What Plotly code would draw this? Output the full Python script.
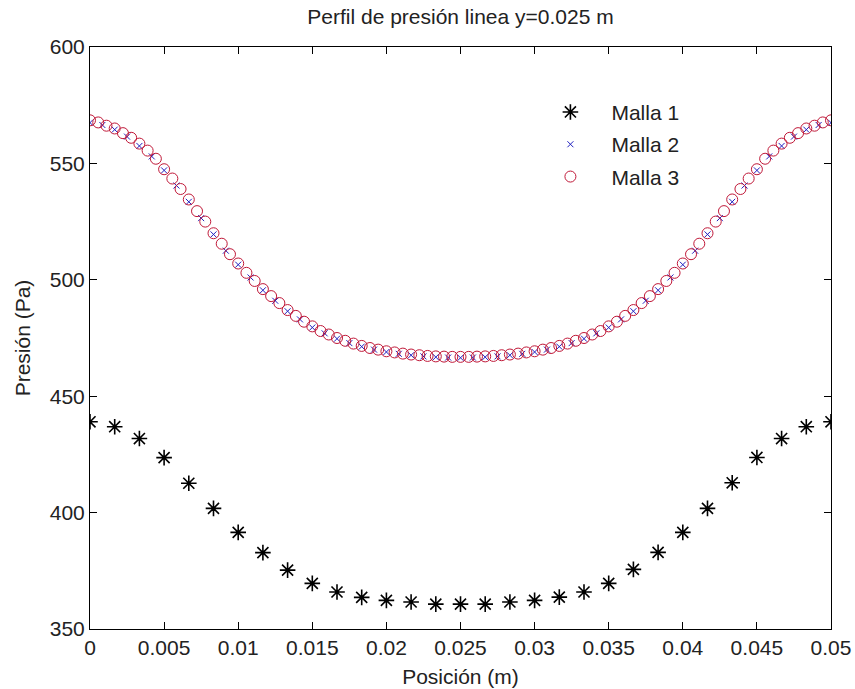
import plotly.graph_objects as go

# Malla 1: 31 points
x1 = [i * 0.05 / 30 for i in range(31)]
p1 = [439.0, 436.9, 431.8, 423.6, 412.6, 401.8, 391.5, 382.8, 375.3, 369.6,
      365.9, 363.6, 362.3, 361.6, 360.7, 360.7, 360.7, 361.6, 362.3, 363.7,
      365.9, 369.6, 375.6, 382.9, 391.5, 401.8, 412.8, 423.7, 431.8, 436.9, 439.0]

# Malla 2: 61 points
x2 = [i * 0.05 / 60 for i in range(61)]
p2 = [567.5, 566.5, 564.5, 561.5, 557.5, 553.0, 547.0, 540.5, 533.5, 526.5,
      519.5, 512.5, 506.5, 501.0, 495.5, 491.0, 486.5, 483.0, 479.5, 477.0,
      474.7, 472.8, 471.3, 470.0, 469.0, 468.2, 467.6, 467.1, 466.8, 466.6,
      466.5,
      466.6, 466.8, 467.1, 467.6, 468.2, 469.0, 470.0, 471.3, 472.8, 474.7,
      477.0, 479.5, 483.0, 486.5, 491.0, 495.5, 501.0, 506.5, 512.5, 519.5,
      526.5, 533.5, 540.5, 547.0, 553.0, 557.5, 561.5, 564.5, 566.5, 567.5]

# Malla 3: 91 points
x3 = [i * 0.05 / 90 for i in range(91)]
p3 = [568.5, 567.6, 566.2, 565.0, 563.0, 561.0, 558.5, 555.5, 552.0, 547.5,
      543.5, 539.0, 534.5, 529.5, 525.0, 520.0, 515.5, 511.0, 507.0, 503.0,
      499.5, 496.0, 493.0, 490.0, 487.0, 484.5, 482.0, 480.0, 478.0, 476.5,
      475.0, 473.8, 472.6, 471.6, 470.7, 470.0, 469.3, 468.8, 468.3, 467.9,
      467.6, 467.3, 467.1, 467.0, 466.9, 466.9,
      466.9, 467.0, 467.1, 467.3, 467.6, 467.9, 468.3, 468.8, 469.3, 470.0,
      470.7, 471.6, 472.6, 473.8, 475.0, 476.5, 478.0, 480.0, 482.0, 484.5,
      487.0, 490.0, 493.0, 496.0, 499.5, 503.0, 507.0, 511.0, 515.5, 520.0,
      525.0, 529.5, 534.5, 539.0, 543.5, 547.5, 552.0, 555.5, 558.5, 561.0,
      563.0, 565.0, 566.2, 567.6, 568.5]

xticks = [0, 0.005, 0.01, 0.015, 0.02, 0.025, 0.03, 0.035, 0.04, 0.045, 0.05]
xticklabels = ["0", "0.005", "0.01", "0.015", "0.02", "0.025", "0.03", "0.035", "0.04", "0.045", "0.05"]
yticks = [350, 400, 450, 500, 550, 600]
yticklabels = ["350", "400", "450", "500", "550", "600"]

FONT = "Liberation Sans, Arial, sans-serif"
FS = 21

fig = go.Figure()
fig.add_trace(go.Scatter(x=x1, y=p1, mode="markers", name="Malla 1", legendgroup="g1",
                         marker=dict(symbol="asterisk-open", size=13, color="black",
                                     line=dict(color="black", width=1.6))))
fig.add_trace(go.Scatter(x=x2, y=p2, mode="markers", name="Malla 2", legendgroup="g2",
                         marker=dict(symbol="x-thin-open", size=6, color="#2020c0",
                                     line=dict(color="#2020c0", width=1))))
fig.add_trace(go.Scatter(x=x3, y=p3, mode="markers", name="Malla 3", legendgroup="g3",
                         marker=dict(symbol="circle-open", size=11, color="#c01838",
                                     line=dict(color="#c01838", width=1))))

fig.update_layout(
    width=855, height=689,
    margin=dict(l=90, r=24, t=47, b=60),
    paper_bgcolor="white", plot_bgcolor="white",
    font=dict(family=FONT, size=FS, color="#222"),
    title=dict(text="Perfil de presión linea y=0.025 m", x=(90 + 831) / 2 / 855, xanchor="center",
               y=1 - 17 / 689, yanchor="middle", yref="container", font=dict(size=FS)),
    showlegend=True,
    legend=dict(x=0.593, y=0.923, xanchor="left", yanchor="top", bgcolor="rgba(0,0,0,0)",
                borderwidth=0, font=dict(size=FS), itemwidth=72, tracegroupgap=2),
)
fig.update_xaxes(range=[0, 0.05], tickvals=xticks, ticktext=xticklabels,
                 ticks="inside", ticklen=7, tickcolor="black", showline=True, linecolor="black",
                 linewidth=1, mirror="ticks", showgrid=False, zeroline=False, automargin=False,
                 title=dict(text="Posición (m)", standoff=11, font=dict(size=FS)),
                 tickfont=dict(size=FS))
fig.update_yaxes(range=[350, 600], tickvals=yticks, ticktext=yticklabels,
                 ticks="inside", ticklen=7, tickcolor="black", showline=True, linecolor="black",
                 linewidth=1, mirror="ticks", showgrid=False, zeroline=False, automargin=False,
                 title=dict(text="Presión (Pa)", standoff=13, font=dict(size=FS)),
                 tickfont=dict(size=FS))

fig.write_html("out.html")
